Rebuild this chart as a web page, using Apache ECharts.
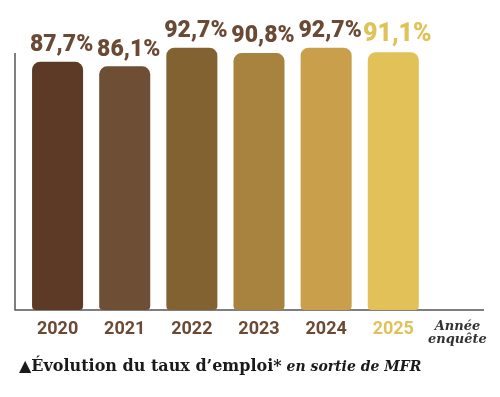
<!DOCTYPE html>
<html>
<head>
<meta charset="utf-8">
<script src="https://cdn.jsdelivr.net/npm/echarts@6/dist/echarts.min.js"></script>
<style>
  html, body { margin: 0; padding: 0; background: #fff; }
  #chart { width: 500px; height: 397px; }
</style>
</head>
<body>
<div id="chart"></div>
<script>
const years = ['2020', '2021', '2022', '2023', '2024', '2025', 'Année\nenquête']
const rates = [87.7, 86.1, 92.7, 90.8, 92.7, 91.1, null]
const barColors = ['#5d3a25', '#6e4e35', '#836232', '#a8823f', '#c99f4b', '#e1c158', '#fff']

const brown = '#6b4a35'
const yellow = '#e0c25a'

const chart = echarts.init(document.getElementById('chart'), null, { renderer: 'canvas' })

chart.setOption({
  animation: false,
  title: {
    left: 14,
    top: 354,
    text: '{a|▲Évolution du taux d’emploi*}{b| en sortie de MFR}',
    textStyle: {
      rich: {
        a: { fontFamily: 'DejaVu Serif', fontWeight: 'bold', fontSize: 16, color: '#1a1a1a' },
        b: { fontFamily: 'DejaVu Serif', fontWeight: 'bold', fontStyle: 'italic', fontSize: 14, color: '#1a1a1a' }
      }
    }
  },
  // axis lines are a bit off the band grid in the original
  graphic: [{
    type: 'polyline',
    shape: { points: [[15, 53], [15, 310], [484, 310]] },
    style: { stroke: '#555', lineWidth: 1.5, fill: null }
  }],
  grid: { left: 24, right: 6, top: 27, bottom: 87 },
  xAxis: {
    type: 'category',
    data: years,
    axisLine: { show: false },
    axisTick: { show: false },
    axisLabel: {
      interval: 0,
      margin: 10,
      formatter: (v, i) => i === 6 ? '{n|' + v.replace('\n', '}\n{n|') + '}' : i === 5 ? '{y|' + v + '}' : '{d|' + v + '}',
      rich: {
        d: { fontFamily: 'Roboto', fontWeight: 'bold', fontSize: 18, color: brown },
        y: { fontFamily: 'Roboto', fontWeight: 'bold', fontSize: 18, color: yellow },
        n: { fontFamily: 'DejaVu Serif', fontWeight: 'bold', fontStyle: 'italic', fontSize: 13, color: '#333', lineHeight: 13, padding: [0, 6, 0, 0] }
      }
    }
  },
  yAxis: {
    type: 'value',
    min: 0,
    max: 100,
    show: false
  },
  series: [{
    type: 'bar',
    barCategoryGap: '24%',
    data: rates.map((v, i) => ({
      value: v,
      itemStyle: { color: barColors[i], borderRadius: [8, 8, 4, 4] },
      label: { color: i === 5 ? yellow : brown, fontSize: i === 5 ? 25 : 23 }
    })),
    label: {
      show: true,
      position: 'top',
      distance: 5,
      offset: [4, 0],
      fontFamily: 'Roboto',
      fontWeight: 900,
      formatter: p => p.value.toFixed(1).replace('.', ',') + '%'
    }
  }]
})
</script>
</body>
</html>
